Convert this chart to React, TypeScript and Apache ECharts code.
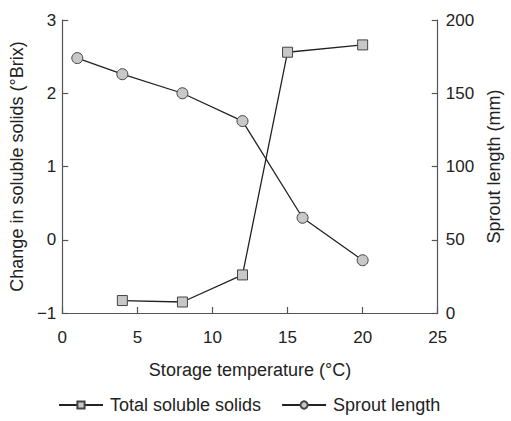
import React, { useEffect, useRef } from "react";
import * as echarts from "echarts";

const tssTemps = [4, 8, 12, 15, 20];
const tssValues = [-0.83, -0.85, -0.48, 2.56, 2.66];
const sproutTemps = [1, 4, 8, 12, 16, 20];
const sproutValues = [174, 163, 150, 131, 65, 36];

const FONT = "Liberation Sans, Arial, sans-serif";
const minus = (v: number) => String(v).replace("-", "\u2212");

export default function App() {
  const ref = useRef<HTMLDivElement>(null);
  useEffect(() => {
    const chart = echarts.init(ref.current!, undefined, { renderer: "svg" });
    const axisLine = { onZero: false, lineStyle: { color: "#555", width: 1.2 } };
    const axisTick = { inside: true, length: 6, lineStyle: { color: "#555", width: 1.2 } };
    const axisLabel = { color: "#222", fontSize: 17, fontFamily: FONT };
    const nameStyle = { color: "#222", fontSize: 18, fontFamily: FONT };
    chart.setOption({
      animation: false,
      textStyle: { fontFamily: FONT },
      grid: { left: 57, right: 64, top: 20, bottom: 108, containLabel: false },
      legend: {
        top: 396,
        left: 58,
        padding: 0,
        itemWidth: 44,
        itemHeight: 9,
        itemGap: 20,
        textStyle: { color: "#222", fontSize: 18, fontFamily: FONT, padding: [0, 0, 0, 2] },
        data: ["Total soluble solids", "Sprout length"],
      },
      xAxis: {
        type: "value",
        min: 0,
        max: 25,
        interval: 5,
        name: "Storage temperature (°C)",
        nameLocation: "middle",
        nameGap: 48,
        nameTextStyle: nameStyle,
        axisLine,
        axisTick,
        axisLabel: { ...axisLabel, margin: 16 },
        splitLine: { show: false },
      },
      yAxis: [
        {
          type: "value",
          min: -1,
          max: 3,
          interval: 1,
          position: "left",
          name: "Change in soluble solids (°Brix)",
          nameLocation: "middle",
          nameGap: 28,
          nameTextStyle: nameStyle,
          axisLine: { show: true, ...axisLine },
          axisTick,
          axisLabel: { ...axisLabel, margin: 6, formatter: (v: number) => minus(v) },
          splitLine: { show: false },
        },
        {
          type: "value",
          min: 0,
          max: 200,
          interval: 50,
          position: "right",
          name: "Sprout length (mm)",
          nameLocation: "middle",
          nameGap: 46,
          nameRotate: 90,
          nameTextStyle: nameStyle,
          axisLine: { show: true, ...axisLine },
          axisTick,
          axisLabel: { ...axisLabel, margin: 8 },
          splitLine: { show: false },
        },
      ],
      series: [
        {
          name: "Total soluble solids",
          type: "line",
          yAxisIndex: 0,
          data: tssTemps.map((t, i) => [t, tssValues[i]]),
          symbol: "rect",
          symbolSize: 10,
          lineStyle: { color: "#222", width: 1.3 },
          itemStyle: { color: "#c8c8c8", borderColor: "#444", borderWidth: 1 },
        },
        {
          name: "Sprout length",
          type: "line",
          yAxisIndex: 1,
          data: sproutTemps.map((t, i) => [t, sproutValues[i]]),
          symbol: "circle",
          symbolSize: 11,
          lineStyle: { color: "#222", width: 1.3 },
          itemStyle: { color: "#c8c8c8", borderColor: "#444", borderWidth: 1 },
        },
      ],
    });
    return () => chart.dispose();
  }, []);
  return (
    <div
      ref={ref}
      style={{ position: "absolute", left: 0, top: 0, width: 511, height: 421 }}
    />
  );
}
